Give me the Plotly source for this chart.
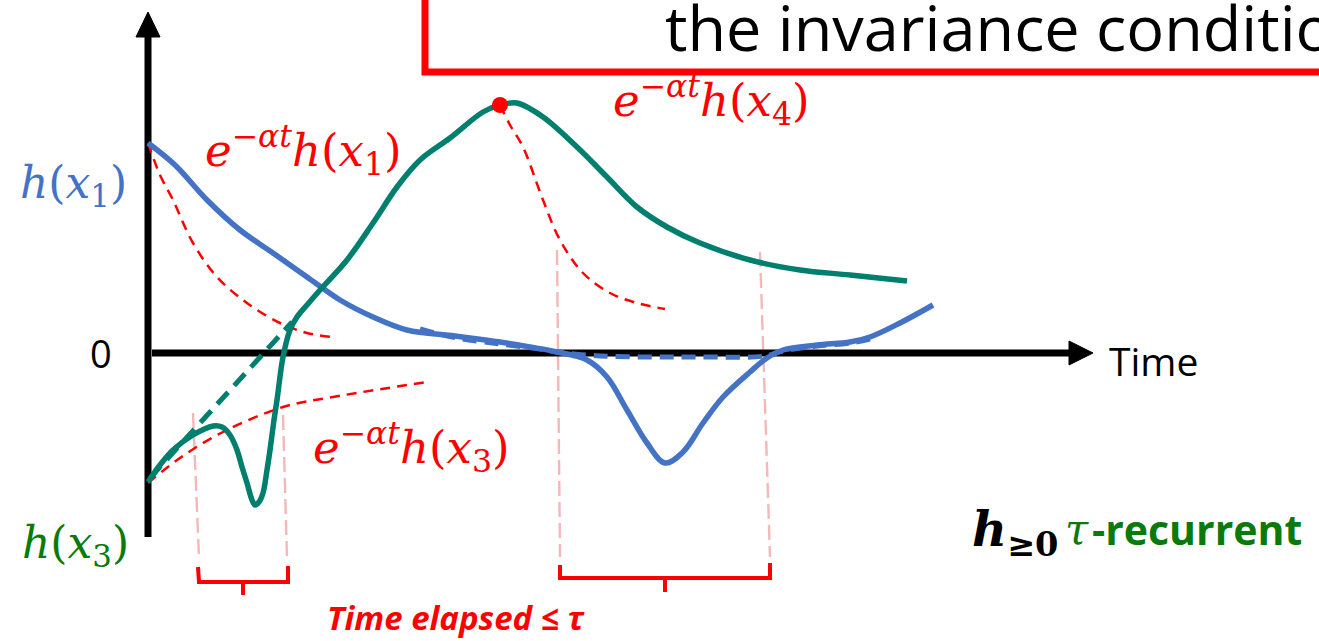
import plotly.graph_objects as go

# ---- data (time t, value h); axis origin at t=0, h=0 ----
blue_t = [0, 27, 59, 92, 125, 159, 192, 225, 259, 307, 352, 382, 409, 439, 459, 479, 499, 517, 535, 555, 575, 602, 619, 635, 669, 702, 722, 752, 785]
blue_h = [210, 188, 153, 123, 100, 76, 53, 36, 23, 17, 11, 6, 1, -7, -24, -57, -90, -110, -99, -70, -44, -19, -5, 3, 8, 11, 16, 30, 48]

blue_dash_t = [272, 309, 352, 392, 409, 452, 502, 552, 617, 635, 669, 702, 722]
blue_dash_h = [24, 15, 9, 4, 1, -3, -4, -4, -3, 2, 7, 10, 14]

green_t = [0, 12, 25, 45, 65, 74, 82, 89, 94, 99, 104, 107, 111, 115, 119, 122, 126, 129, 135, 142, 149, 159, 172, 199, 225, 249, 272, 302, 335, 352, 369, 395, 429, 459, 489, 519, 552, 602, 652, 702, 759]
green_h = [-129, -112, -97, -82, -73, -74, -82, -97, -114, -130, -147, -152, -149, -140, -117, -97, -67, -47, -4, 23, 36, 48, 63, 93, 130, 166, 193, 215, 241, 248, 250, 236, 206, 176, 146, 126, 110, 93, 83, 78, 72]

green_dash_t = [2, 144]
green_dash_h = [-125, 31]

red1_t = [0, 12, 25, 45, 69, 99, 132, 159, 185]
red1_h = [210, 178, 153, 110, 76, 50, 30, 20, 16]
red3_t = [0, 32, 73, 135, 185, 279]
red3_h = [-130, -105, -80, -54, -44, -29]
red4_t = [352, 362, 375, 395, 412, 435, 462, 489, 517]
red4_h = [248, 228, 206, 153, 113, 80, 60, 50, 44]

peak_t = [352]
peak_h = [248]

# window boundaries (pink guides) and brackets
guide_t0 = [45, 135, 409, 612]
guide_t1 = [51, 139, 412, 622]
guide_h0 = [-60, -62, 103, 101]
guide_h1 = [-205, -205, -204, -204]

br1_t = [50, 51, 140, 140]
br1_h = [-214, -229, -229, -213]
br1_stem_t = [95, 95]
br1_stem_h = [-229, -242]
br2_t = [412, 412, 622, 622]
br2_h = [-212, -225, -225, -210]
br2_stem_t = [517, 517]
br2_stem_h = [-225, -239]

# axes arrows
vax_t = [0, 0]
vax_h = [-184, 318]
vhead_t = [-12, 12, 0, -12]
vhead_h = [316, 316, 341, 316]
hax_t = [4, 924]
hax_h = [0, 0]
hhead_t = [921, 921, 945, 921]
hhead_h = [12, -12, 0, 12]

BLUE = "#4472C4"
TEAL = "#007F6E"
RED = "#FF0000"
PINK = "#F5B8B8"
GREEN_TXT = "#0A7A0A"

fig = go.Figure()

def line(t, h, color, width, dash="solid", shape="spline"):
    fig.add_trace(go.Scatter(x=t, y=h, mode="lines",
                             line=dict(color=color, width=width, dash=dash, shape=shape, smoothing=1.0),
                             hoverinfo="skip", showlegend=False))

# pink guides
for a, b, c, d in zip(guide_t0, guide_t1, guide_h0, guide_h1):
    line([a, b], [c, d], PINK, 2.4, dash="15px,6px", shape="linear")

# axes
line(vax_t, vax_h, "black", 7, shape="linear")
line(hax_t, hax_h, "black", 7, shape="linear")
for tt, hh in [(vhead_t, vhead_h), (hhead_t, hhead_h)]:
    fig.add_trace(go.Scatter(x=tt, y=hh, mode="lines", fill="toself", fillcolor="black",
                             line=dict(color="black", width=1), hoverinfo="skip", showlegend=False))

# red dashed decay curves
line(red1_t, red1_h, RED, 2.5, dash="10px,7px")
line(red3_t, red3_h, RED, 2.5, dash="10px,7px")
line(red4_t, red4_h, RED, 2.5, dash="10px,7px")

# main curves
line(blue_dash_t, blue_dash_h, BLUE, 5, dash="14px,8px")
line(blue_t, blue_h, BLUE, 5.5)
line(green_dash_t, green_dash_h, TEAL, 5, dash="16px,9px", shape="linear")
line(green_t, green_h, TEAL, 5.5)

fig.add_trace(go.Scatter(x=peak_t, y=peak_h, mode="markers",
                         marker=dict(color=RED, size=16), hoverinfo="skip", showlegend=False))

# brackets
for tt, hh in [(br1_t, br1_h), (br1_stem_t, br1_stem_h), (br2_t, br2_h), (br2_stem_t, br2_stem_h)]:
    line(tt, hh, RED, 4, shape="linear")

# red box at top
fig.add_shape(type="rect", x0=277, x1=1190, y0=281, y1=370,
              line=dict(color=RED, width=7), fillcolor="rgba(0,0,0,0)", layer="above")

SERIF = "DejaVu Serif"
SANS = "Open Sans"

def ann(text, t, h, size, color, family, xanchor="center", yanchor="middle"):
    fig.add_annotation(x=t, y=h, text=text, showarrow=False, xanchor=xanchor, yanchor=yanchor,
                       font=dict(size=size, color=color, family=family))

ann("the invariance condition", 515, 327, 63, "black", SANS, xanchor="left")
ann("<i>h</i>(<i>x</i><sub>1</sub>)", -75, 168, 44, BLUE, SERIF)
ann("<i>h</i>(<i>x</i><sub>3</sub>)", -73, -192, 44, GREEN_TXT, SERIF)
ann("<i>e</i><sup>−<i>αt</i></sup><i>h</i>(<i>x</i><sub>1</sub>)", 155, 203, 45, RED, SERIF)
ann("<i>e</i><sup>−<i>αt</i></sup><i>h</i>(<i>x</i><sub>4</sub>)", 563, 253, 45, RED, SERIF)
ann("<i>e</i><sup>−<i>αt</i></sup><i>h</i>(<i>x</i><sub>3</sub>)", 263, -94, 45, RED, SERIF)
ann("0", -47, 0, 38, "black", SANS)
ann("Time", 959, -7, 39, "black", SANS, xanchor="left")
ann("<b><i>h</i></b><sub><b>≥0</b></sub>", 822, -179, 48, "black", SERIF, xanchor="left")
ann("<i>τ</i>", 915, -176, 42, GREEN_TXT, SERIF, xanchor="left")
ann("<b>-recurrent</b>", 942, -176, 41, GREEN_TXT, SANS, xanchor="left")
ann("<b><i>Time elapsed ≤ τ</i></b>", 308, -264, 33, RED, SANS)

fig.update_layout(width=1319, height=641, margin=dict(l=0, r=0, t=0, b=0),
                  paper_bgcolor="white", plot_bgcolor="white", showlegend=False,
                  xaxis=dict(range=[-148, 1171], visible=False, fixedrange=True),
                  yaxis=dict(range=[-288, 353], visible=False, fixedrange=True))

fig.write_html("out.html", config={"displayModeBar": False},
               post_script="document.body.style.margin='0';")
